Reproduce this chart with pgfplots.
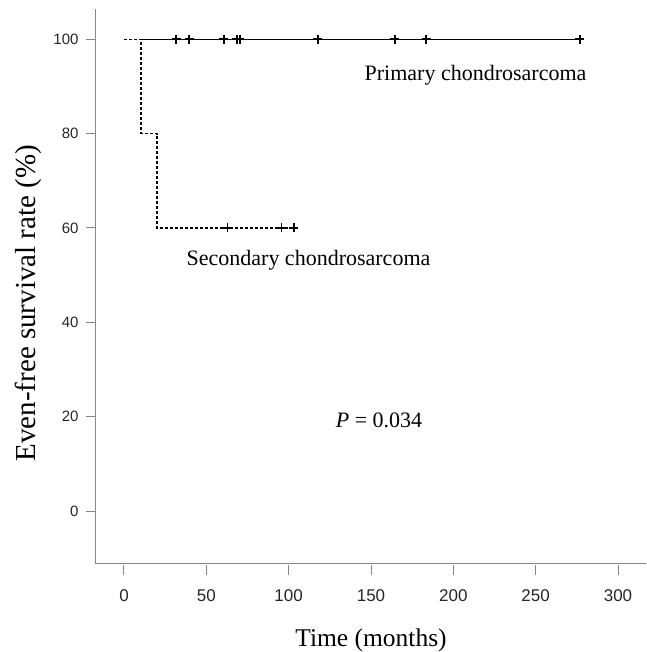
\documentclass[border=0pt]{standalone}
\usepackage{pgfplots}
\pgfplotsset{compat=1.18}
\usepackage{fontspec}
\setmainfont{Liberation Serif}
\newfontfamily\ticksans{Liberation Sans}
\definecolor{axisgray}{RGB}{135,135,135}

\begin{document}
\begin{tikzpicture}
    \begin{axis}[
            scale only axis,
            width=550pt,
            height=555pt,
            xmin=-17, xmax=317,
            ymin=-11.2, ymax=106.4,
            axis x line*=bottom,
            axis y line*=left,
            axis line style={axisgray, line width=1pt},
            xtick={0,50,...,300},
            ytick={0,20,...,100},
            tick align=outside,
            major tick length=10pt,
            x tick style={axisgray, line width=1pt, yshift=-1.5pt},
            y tick style={axisgray, line width=1pt},
            /pgf/number format/assume math mode=true,
            x tick label style={font=\ticksans\fontsize{17}{19}\selectfont, black!85, yshift=-12pt},
            y tick label style={font=\ticksans\fontsize{15}{17}\selectfont, black!85, xshift=-4pt},
            xlabel={Time (months)},
            ylabel={Even-free survival rate (\%)},
            x label style={font=\fontsize{25.5}{28}\selectfont,
                at={(axis description cs:0.5,-0.1495)}, anchor=base},
            y label style={font=\fontsize{29}{32}\selectfont,
                at={(axis description cs:-0.1236,0.47)}, anchor=center},
            clip=false,
        ]
        % Primary chondrosarcoma
        \addplot[const plot, black, line width=1.2pt] coordinates {
            (0,100) (276.9,100)
        };
        \addplot[only marks, mark=+, mark size=4.5pt, mark options={line width=1.5pt}, black] coordinates {
            (31.6,100) (39.5,100) (60.7,100) (68.6,100) (70.4,100)
            (117.8,100) (164.5,100) (183.4,100) (276.9,100)
        };
        % Secondary chondrosarcoma
        \addplot[const plot, black, line width=1.2pt, dash pattern=on 3pt off 2pt,
            preaction={draw=white, solid, line width=1.8pt}] coordinates {
            (0,100) (10.3,80) (20,60) (103.2,60)
        };
        \addplot[only marks, mark=+, mark size=4.5pt, mark options={line width=1.5pt}, black] coordinates {
            (63,60) (95.7,60) (103.2,60)
        };
        \node[font=\fontsize{22}{24}\selectfont, anchor=base west] at (axis cs:144,91.3) {Primary chondrosarcoma};
        \node[font=\fontsize{22}{24}\selectfont, anchor=base west] at (axis cs:35.9,52.0) {Secondary chondrosarcoma};
        \node[font=\fontsize{22}{24}\selectfont, anchor=base west] at (axis cs:126.5,17.8) {\textit{P} = 0.034};
    \end{axis}
    \pgfresetboundingbox
    \path[use as bounding box] ([shift={(-96pt,-88pt)}]current axis.south west)
        rectangle ([shift={(0pt,9pt)}]current axis.north east);
\end{tikzpicture}
\end{document}
